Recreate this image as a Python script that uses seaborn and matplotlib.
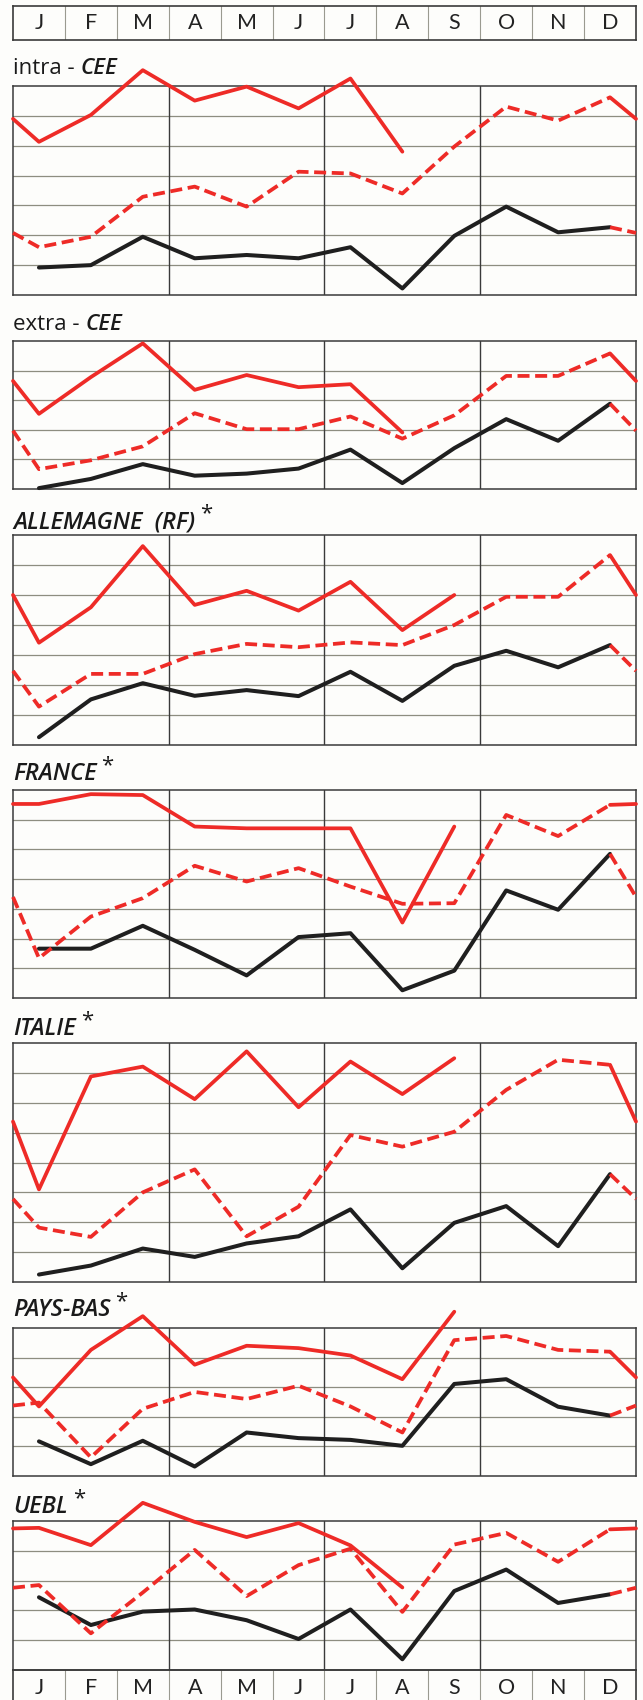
import numpy as np
import matplotlib
matplotlib.use('Agg')
import matplotlib.pyplot as plt
import seaborn as sns

# Month labels (top and bottom strips)
months = ['J', 'F', 'M', 'A', 'M', 'J', 'J', 'A', 'S', 'O', 'N', 'D']

# Panel titles and number of horizontal bands in each panel
titles = ['intra', 'extra', 'ALLEMAGNE  (RF)', 'FRANCE', 'ITALIE', 'PAYS-BAS', 'UEBL']
n_bands = [7, 5, 7, 7, 8, 5, 5]

# Values in grid-band units, one value per month.
# black = first year, dashed red = second year, solid red = third year (partial)
intra_black = [0.92, 1.00, 1.95, 1.23, 1.34, 1.23, 1.60, 0.22, 1.98, 2.96, 2.10, 2.27]
intra_dashed = [1.60, 1.95, 3.29, 3.63, 2.96, 4.13, 4.07, 3.40, 4.97, 6.31, 5.84, 6.62]
intra_solid = [5.13, 6.03, 7.53, 6.51, 6.98, 6.25, 7.25, 4.80]

extra_black = [0.03, 0.34, 0.84, 0.45, 0.52, 0.69, 1.33, 0.20, 1.38, 2.36, 1.63, 2.88]
extra_dashed = [0.67, 0.97, 1.44, 2.56, 2.02, 2.02, 2.45, 1.70, 2.49, 3.82, 3.82, 4.58]
extra_solid = [2.54, 3.78, 4.92, 3.35, 3.85, 3.44, 3.54, 1.91]

all_black = [0.26, 1.52, 2.06, 1.64, 1.83, 1.63, 2.44, 1.47, 2.64, 3.14, 2.59, 3.33]
all_dashed = [1.28, 2.37, 2.37, 3.03, 3.37, 3.26, 3.42, 3.33, 4.00, 4.94, 4.94, 6.33]
all_solid = [3.41, 4.59, 6.63, 4.67, 5.14, 4.48, 5.44, 3.83, 5.00]

fra_black = [1.66, 1.66, 2.43, 1.62, 0.76, 2.05, 2.18, 0.26, 0.92, 3.62, 2.97, 4.85]
fra_dashed = [1.34, 2.74, 3.36, 4.45, 3.92, 4.37, 3.75, 3.17, 3.19, 6.16, 5.45, 6.50]
fra_solid = [6.53, 6.86, 6.83, 5.77, 5.71, 5.71, 5.71, 2.54, 5.77]

ita_black = [0.25, 0.55, 1.12, 0.84, 1.29, 1.53, 2.43, 0.46, 1.98, 2.54, 1.20, 3.61]
ita_dashed = [1.82, 1.51, 3.00, 3.77, 1.53, 2.52, 4.92, 4.53, 5.03, 6.43, 7.44, 7.27]
ita_solid = [3.10, 6.88, 7.21, 6.12, 7.72, 5.85, 7.38, 6.29, 7.49]

pb_black = [1.17, 0.40, 1.19, 0.32, 1.47, 1.28, 1.22, 1.02, 3.11, 3.27, 2.34, 2.04]
pb_dashed = [2.48, 0.63, 2.27, 2.84, 2.60, 3.05, 2.35, 1.47, 4.59, 4.73, 4.26, 4.20]
pb_solid = [2.35, 4.26, 5.40, 3.76, 4.40, 4.32, 4.07, 3.27, 5.55]

uebl_black = [2.44, 1.51, 1.96, 2.03, 1.67, 1.04, 2.03, 0.36, 2.65, 3.37, 2.25, 2.54]
uebl_dashed = [2.85, 1.23, 2.60, 4.03, 2.48, 3.52, 4.07, 1.95, 4.21, 4.60, 3.63, 4.72]
uebl_solid = [4.77, 4.19, 5.61, 4.97, 4.46, 4.93, 4.18, 2.77]

# value where the line crosses the year boundary (Dec -> next Jan), read at the panel edges
edge_black_dashed = [2.08, 1.97, 2.47, 3.40, 2.78, 2.38, 2.76]
edge_dashed_solid = [5.90, 3.65, 5.00, 6.53, 5.37, 3.33, 4.75]

blacks = [intra_black, extra_black, all_black, fra_black, ita_black, pb_black, uebl_black]
dasheds = [intra_dashed, extra_dashed, all_dashed, fra_dashed, ita_dashed, pb_dashed, uebl_dashed]
solids = [intra_solid, extra_solid, all_solid, fra_solid, ita_solid, pb_solid, uebl_solid]

# layout in pixels (top, bottom) and title baselines
panel_px = [(86, 295), (341, 489), (535, 745), (790, 998), (1043, 1282), (1328, 1476), (1521, 1670)]
title_base = [74, 330, 528, 780, 1035, 1316, 1513]

RED = '#ee2b27'
BLACK = '#1f1f1f'
GRID = '#8d8d80'
FRAME = '#3a3a3a'

sns.set_style('white')
plt.rcParams['font.family'] = ['Open Sans', 'DejaVu Sans']

W, H = 643, 1700
fig = plt.figure(figsize=(W / 100, H / 100), dpi=100)
fig.patch.set_facecolor('#fdfdfb')
X0, X1 = 13, 636


def rect(top, bottom):
    return [X0 / W, 1 - bottom / H, (X1 - X0) / W, (bottom - top) / H]


def month_strip(top, bottom):
    ax = fig.add_axes(rect(top, bottom))
    ax.set_xlim(-0.5, 11.5)
    ax.set_ylim(0, 1)
    ax.set_xticks([])
    ax.set_yticks([])
    ax.set_facecolor('none')
    for s in ax.spines.values():
        s.set_color(FRAME)
        s.set_linewidth(1.2)
    for i in range(11):
        ax.axvline(i + 0.5, color='#9a9a90', lw=0.8)
    for i, m in enumerate(months):
        ax.text(i, 0.5, m, ha='center', va='center', fontsize=15.5, color='#222222',
                family=['Lato', 'DejaVu Sans'])
    return ax


month_strip(6, 40)
month_strip(1670, 1706)

dash = (0, (3.2, 1.5))
x = np.arange(12)

for k in range(7):
    top, bottom = panel_px[k]
    nb = n_bands[k]
    ax = fig.add_axes(rect(top, bottom))
    ax.set_facecolor('none')
    ax.set_xlim(-0.5, 11.5)
    ax.set_ylim(0, nb)
    ax.set_xticks([])
    ax.set_yticks([])
    for s in ax.spines.values():
        s.set_color(FRAME)
        s.set_linewidth(1.1)
    for j in range(1, nb):
        ax.axhline(j, color=GRID, lw=0.9, zorder=0)
    for q in [2.5, 5.5, 8.5]:
        ax.axvline(q, color=FRAME, lw=1.0, zorder=0)

    black, dashed, solid = blacks[k], dasheds[k], solids[k]
    ebd, eds = edge_black_dashed[k], edge_dashed_solid[k]

    sns.lineplot(x=x, y=black, ax=ax, color=BLACK, lw=2.9, clip_on=False, zorder=3)
    # Dec of the black year to the right edge, in the style of the next year
    sns.lineplot(x=[11, 11.5], y=[black[-1], ebd], ax=ax, color=RED, lw=2.7,
                 linestyle=dash, clip_on=False, zorder=4)
    sns.lineplot(x=np.r_[-0.5, x], y=[ebd] + dashed, ax=ax, color=RED, lw=2.7,
                 linestyle=dash, clip_on=False, zorder=4)
    sns.lineplot(x=[11, 11.5], y=[dashed[-1], eds], ax=ax, color=RED, lw=2.7,
                 clip_on=False, zorder=5)
    sns.lineplot(x=np.r_[-0.5, x[:len(solid)]], y=[eds] + solid, ax=ax, color=RED,
                 lw=2.7, clip_on=False, zorder=5)

# titles
fig.canvas.draw()
rend = fig.canvas.get_renderer()
for k, t in enumerate(titles):
    yb = 1 - title_base[k] / H
    if k < 2:
        t1 = fig.text(X0 / W, yb, t + ' - ', fontsize=16, color='#1a1a1a', va='baseline')
        bb = t1.get_window_extent(rend)
        fig.text(bb.x1 / W, yb, 'CEE', fontsize=16, fontstyle='italic',
                 fontweight='semibold', color='#1a1a1a', va='baseline')
    else:
        t1 = fig.text(X0 / W, yb, t, fontsize=17, fontstyle='italic', fontweight='semibold',
                      color='#1a1a1a', va='baseline')
        bb = t1.get_window_extent(rend)
        fig.text((bb.x1 + 5) / W, yb + 9 / H, '*', fontsize=16, color='#1a1a1a',
                 va='baseline')

fig.savefig('out.png', dpi=100, facecolor=fig.get_facecolor())
